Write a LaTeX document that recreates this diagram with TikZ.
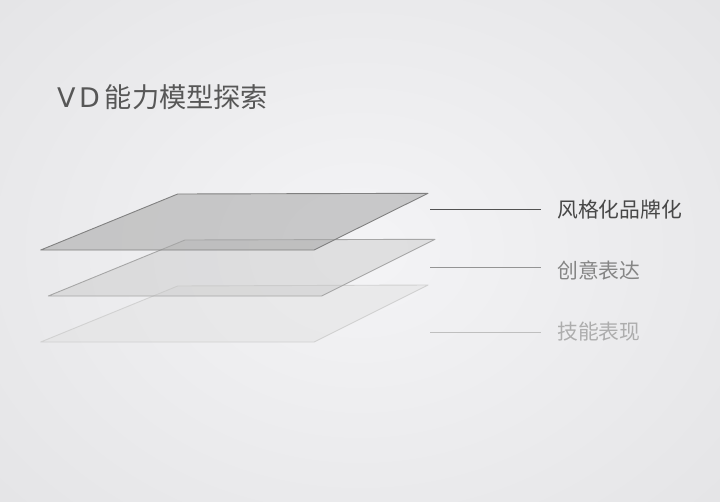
\documentclass[tikz,border=0pt]{standalone}
\usepackage{fontspec}
\newfontfamily\cjk{Noto Sans CJK SC}
\newfontfamily\latinfont{DejaVu Sans}
\begin{document}
\begin{tikzpicture}[x=1pt,y=-1pt,
  layer/.style={line width=0.9pt,fill opacity=0.45,line join=round},
  lab/.style={anchor=west,inner sep=0pt,font=\cjk\fontsize{20.8}{21}\selectfont},
  lead/.style={line width=0.8pt}]
\definecolor{bgA}{HTML}{F4F4F6}
\definecolor{bgB}{HTML}{E4E4E6}
\useasboundingbox (0,0) rectangle (720,501);
\shade[inner color=bgA,outer color=bgB] (-150,-150) rectangle (870,650);
% title
\node[anchor=west,inner sep=0pt,text=black!66,font=\cjk\fontsize{27.2}{28}\selectfont] (title) at (57,97) {{\latinfont\fontsize{27}{28}\selectfont V\kern3.5pt D}\kern5pt 能力模型探索};
% layers (bottom to top)
\draw[layer,draw=black!18,fill=black!12] (177.7,286) -- (428,285) -- (314,342) -- (40.7,342) -- cycle;
\draw[layer,draw=black!35,fill=black!22] (185,240) -- (435,239.3) -- (321.7,296) -- (48.3,296) -- cycle;
\draw[layer,draw=black!50,fill=black!35,fill opacity=0.55] (177.7,194) -- (428,193.3) -- (314,250) -- (40.7,250) -- cycle;
% leader start points
\coordinate (l1) at (430,209);
\coordinate (l2) at (430,267);
\coordinate (l3) at (430,332);
% labels
\node[lab,text=black!72] (t1) at (557,210) {风格化品牌化};
\node[lab,text=black!48] (t2) at (557,270) {创意表达};
\node[lab,text=black!32] (t3) at (557,332) {技能表现};
\draw[lead,draw=black!68] (l1) -- (l1 -| 541,0);
\draw[lead,draw=black!42] (l2) -- (l2 -| 541,0);
\draw[lead,draw=black!25] (l3) -- (l3 -| 541,0);
\end{tikzpicture}
\end{document}
